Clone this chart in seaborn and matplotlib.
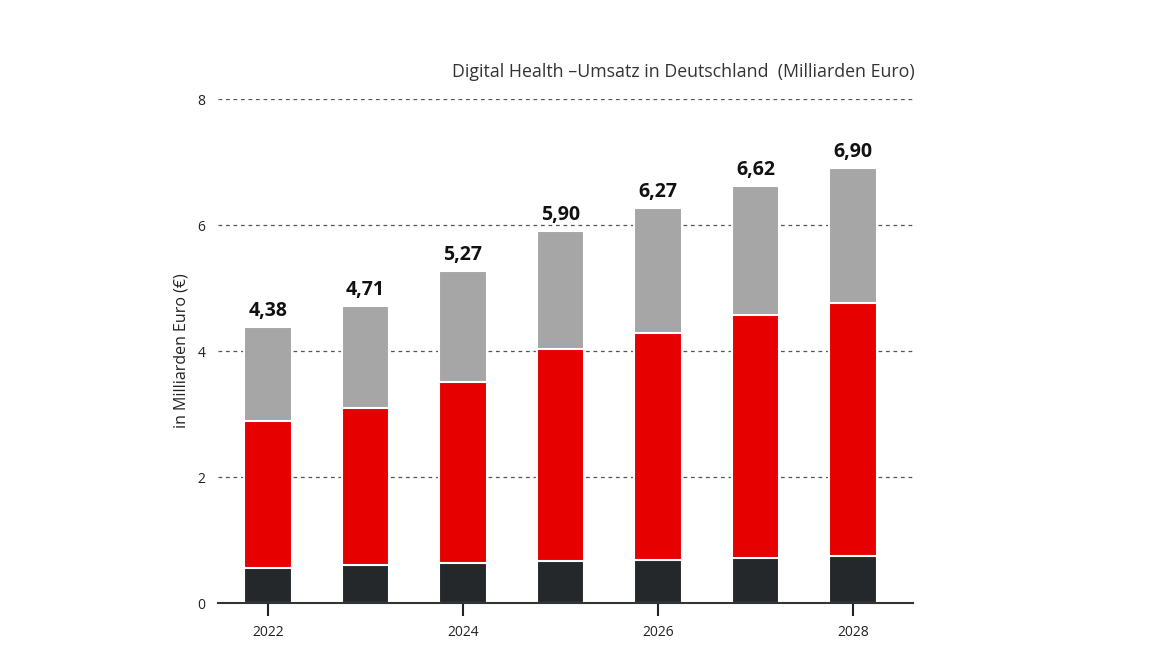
import matplotlib
matplotlib.use("Agg")
import matplotlib.pyplot as plt
import numpy as np
import pandas as pd
import seaborn as sns

# Werte (Milliarden Euro)
years = ["2022", "2023", "2024", "2025", "2026", "2027", "2028"]
dark = [0.55, 0.60, 0.63, 0.66, 0.69, 0.72, 0.74]
red = [2.34, 2.50, 2.88, 3.38, 3.60, 3.85, 4.03]
grey = [1.49, 1.61, 1.76, 1.86, 1.98, 2.05, 2.13]
totals = ["4,38", "4,71", "5,27", "5,90", "6,27", "6,62", "6,90"]
shown_ticks = ["2022", "2024", "2026", "2028"]

df = pd.DataFrame({"year": years, "dark": dark, "red": red, "grey": grey})
df["red_cum"] = df["dark"] + df["red"]
df["total"] = df["red_cum"] + df["grey"]

sns.set_style("white")
plt.rcParams["font.family"] = ["Open Sans", "DejaVu Sans"]

fig = plt.figure(figsize=(11.76, 6.61), dpi=100)
ax = fig.add_axes([0.1854, 0.0877, 0.591, 0.7625])

ax.set_axisbelow(True)
ax.yaxis.grid(True, linestyle=(0, (3, 3)), color="#555555", linewidth=0.9)

# gestapelt durch Überlagerung: Gesamt, dann Rot kumuliert, dann Dunkel
for col, color in [("total", "#a5a6a5"), ("red_cum", "#e60000"), ("dark", "#25282b")]:
    sns.barplot(data=df, x="year", y=col, color=color, width=0.49,
                edgecolor="white", linewidth=1.5, saturation=1, ax=ax)

for i, (t, lab) in enumerate(zip(df["total"], totals)):
    ax.text(i, t + 0.1, lab, ha="center", va="bottom", fontsize=14,
            fontweight="bold", color="#111111")

ax.set_xlim(-0.513, 6.615)
ax.set_ylim(0, 8)
ax.set_yticks([0, 2, 4, 6, 8])
ax.set_yticklabels(["0", "2", "4", "6", "8"], fontsize=10, color="#222222")
ax.set_xticks([years.index(y) for y in shown_ticks])
ax.set_xticklabels(shown_ticks, fontsize=10, color="#222222")
ax.tick_params(axis="x", bottom=True, direction="out", length=9, width=1.5,
               color="#222222", pad=7)
ax.tick_params(axis="y", left=False, length=0, pad=9)

for s in ["top", "right", "left"]:
    ax.spines[s].set_visible(False)
ax.spines["bottom"].set_color("#333333")
ax.spines["bottom"].set_linewidth(1.5)

ax.set_xlabel("")
ax.set_ylabel("in Milliarden Euro (€)", fontsize=11.5, color="#222222", labelpad=6)
ax.text(1.003, 1.035, "Digital Health \u2013Umsatz in Deutschland  (Milliarden Euro)",
        transform=ax.transAxes, ha="right", va="bottom", fontsize=12.8, color="#333333")

fig.savefig("out.png", dpi=100)
